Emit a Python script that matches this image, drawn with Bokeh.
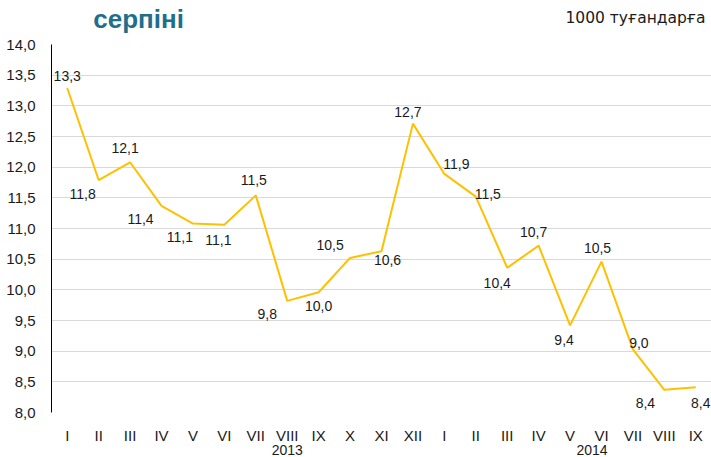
from bokeh.plotting import figure
from bokeh.models import FixedTicker, LinearAxis, ColumnDataSource, Range1d
from bokeh.core.properties import value
from bokeh.embed import file_html
from bokeh.resources import INLINE

# ---- data ----
months = ["I", "II", "III", "IV", "V", "VI", "VII", "VIII", "IX", "X", "XI", "XII",
          "I", "II", "III", "IV", "V", "VI", "VII", "VIII", "IX"]
rates = [13.29, 11.79, 12.08, 11.37, 11.08, 11.06, 11.54, 9.82, 9.96, 10.52, 10.63, 12.71,
         11.89, 11.52, 10.36, 10.72, 9.42, 10.46, 9.03, 8.37, 8.41]
years = ["2013", "2014"]
y_ticks = [8.0, 8.5, 9.0, 9.5, 10.0, 10.5, 11.0, 11.5, 12.0, 12.5, 13.0, 13.5, 14.0]
title_text = "серпіні"
unit_text = "1000 туғандарға"

# ---- styling (placement, pixels / axis positions) ----
label_dx = [0, -16, -5, -21, -13, -6, -2, -20, 0, -20, 6, -5, 12, 12, -10, -5, -6, -4, 6, -19, 5]
label_dy = [-12, 14, -14, 13, 13, 15, -15, 13, 14, -13, 9, -12, -10, -3, 15, -14, 15, -14, -6, 13, 16]
year_pos = [7, 16.7]
unit_pos = 18.08
title_pos = 2.27

FONT = "Liberation Sans"
TXT = "#1a1a1a"

xs = list(range(len(months)))
src = ColumnDataSource(dict(
    x=xs, y=rates,
    lbl=[f"{v:.1f}".replace(".", ",") for v in rates],
    dx=label_dx, dy=label_dy,
))

p = figure(width=711, height=457, x_range=Range1d(-0.5, len(months) - 0.5),
           y_range=Range1d(y_ticks[0], y_ticks[-1]),
           output_backend="svg", toolbar_location=None,
           min_border_left=51, min_border_top=44, min_border_right=0, min_border_bottom=0)
p.outline_line_color = None
p.background_fill_color = "white"
p.border_fill_color = "white"

p.line("x", "y", source=src, line_color="#FFC000", line_width=2)
p.text("x", "y", text="lbl", source=src, x_offset="dx", y_offset="dy",
       text_align="center", text_baseline="middle",
       text_font=value(FONT), text_font_size="14px", text_color=TXT)


def text_axis(ticks, labels, font, size, color, style, standoff):
    ax = LinearAxis(ticker=FixedTicker(ticks=ticks),
                    major_label_overrides={t: s for t, s in zip(ticks, labels)})
    ax.major_label_text_font = font
    ax.major_label_text_font_size = size
    ax.major_label_text_color = color
    ax.major_label_text_font_style = style
    ax.major_tick_line_color = None
    ax.minor_tick_line_color = None
    ax.axis_line_color = None
    ax.major_label_standoff = standoff
    return ax


# y axis
ya = p.yaxis[0]
ya.ticker = FixedTicker(ticks=y_ticks)
ya.major_label_overrides = {t: f"{t:.1f}".replace(".", ",") for t in y_ticks}
ya.major_label_text_font = FONT
ya.major_label_text_font_size = "15px"
ya.major_label_text_color = TXT
ya.major_tick_line_color = None
ya.minor_tick_line_color = None
ya.major_label_standoff = 10
ya.axis_line_color = "black"
ya.axis_line_width = 1

p.ygrid.ticker = FixedTicker(ticks=y_ticks)
p.ygrid.grid_line_color = "#d9d9d9"
p.xgrid.grid_line_color = None

# x axis (months)
xa = p.xaxis[0]
xa.ticker = FixedTicker(ticks=xs)
xa.major_label_overrides = {i: m for i, m in enumerate(months)}
xa.major_label_text_font = FONT
xa.major_label_text_font_size = "15px"
xa.major_label_text_color = TXT
xa.major_tick_line_color = None
xa.minor_tick_line_color = None
xa.axis_line_color = None
xa.major_label_standoff = 8

# x axis (years)
p.add_layout(text_axis(year_pos, years, FONT, "14px", TXT, "normal", -8), "below")

# unit note and title fragment, drawn as label-only axes above the frame
p.add_layout(text_axis([unit_pos], [unit_text], "DejaVu Sans", "15.5px", TXT, "normal", 12), "above")
p.add_layout(text_axis([title_pos], [title_text], FONT, "26px", "#1F6F8B", "bold", -34), "above")

open("out.html", "w").write(file_html(p, INLINE))
